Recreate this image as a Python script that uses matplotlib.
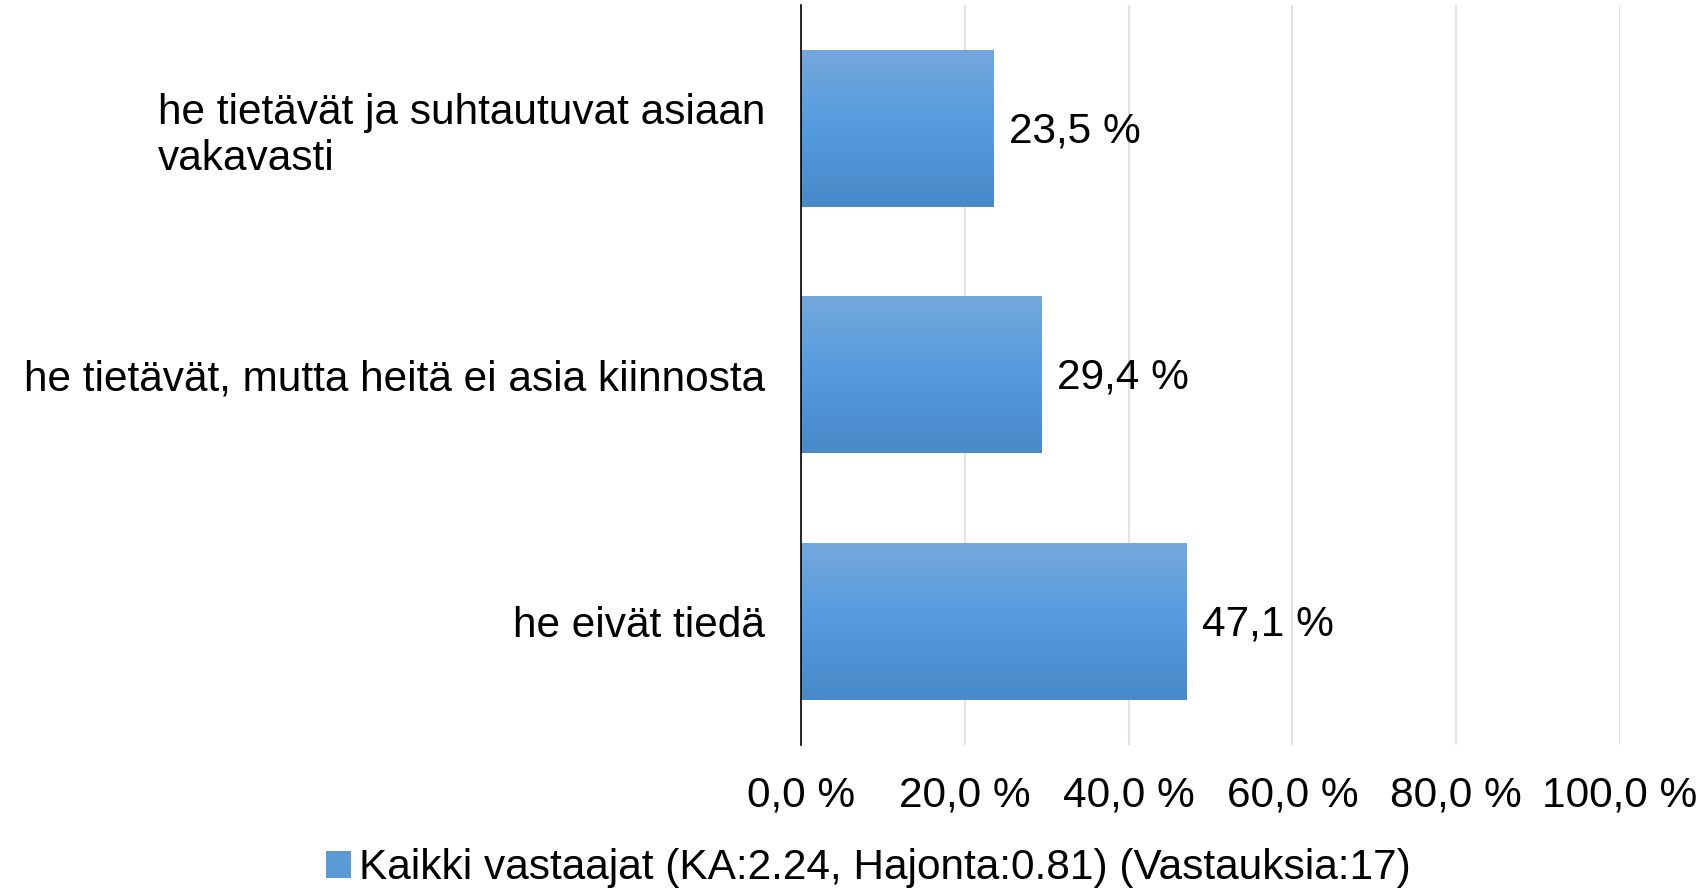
import numpy as np
import matplotlib
matplotlib.use("Agg")
import matplotlib.pyplot as plt
from matplotlib.colors import LinearSegmentedColormap
from matplotlib.patches import Patch
from matplotlib.ticker import FuncFormatter

plt.rcParams['font.family'] = ['Liberation Sans', 'DejaVu Sans']

# data
categories = ["he tietävät ja suhtautuvat asiaan\nvakavasti",
              "he tietävät, mutta heitä ei asia kiinnosta",
              "he eivät tiedä"]
values = [23.5, 29.4, 47.1]
series_label = "Kaikki vastaajat (KA:2.24, Hajonta:0.81) (Vastauksia:17)"
xticks = [0, 20, 40, 60, 80, 100]

FS = 30.5
W, H = 1706, 888
fig = plt.figure(figsize=(W / 100, H / 100), dpi=100)
ax = fig.add_axes([801 / W, 1 - 745 / H, (1620 - 801) / W, 740 / H])

ypos = np.arange(len(categories))
bars = ax.barh(ypos, values, height=0.635, color="#5A9BD5", zorder=2)

# vertical gradient on each bar
grad = LinearSegmentedColormap.from_list("g", ["#74A8DC", "#559BDE", "#4889C8"])
g = np.linspace(0, 1, 256).reshape(-1, 1)
for b in bars:
    x0, y0 = b.get_x(), b.get_y()
    w, h = b.get_width(), b.get_height()
    # inverted y axis: top of bar is y0
    ax.imshow(g, cmap=grad, aspect="auto", extent=(x0, x0 + w, y0 + h, y0),
              origin="upper", zorder=3, interpolation="bilinear")

for b, v in zip(bars, values):
    ax.annotate(f"{v:.1f} %".replace(".", ","), xy=(b.get_width(), b.get_y() + b.get_height() / 2),
                xytext=(11, -2), textcoords="offset points", va="center", ha="left",
                fontsize=FS, color="black")

ax.set_xlim(0, 100)
ax.set_ylim(2.5, -0.5)
ax.set_xticks(xticks)
ax.xaxis.set_major_formatter(FuncFormatter(lambda x, p: f"{x:.1f} %".replace(".", ",")))
ax.set_yticks(ypos)
ax.set_yticklabels(categories)
for t in ax.get_yticklabels():
    t.set_multialignment("left")
ax.tick_params(axis="y", length=0, pad=26, labelsize=FS)
ax.tick_params(axis="x", length=0, pad=22, labelsize=FS)

ax.grid(axis="x", color="#DCDDEA", linewidth=1.2, zorder=0)
for s in ["top", "right", "bottom"]:
    ax.spines[s].set_visible(False)
ax.spines["left"].set_color("black")
ax.spines["left"].set_linewidth(1.2)
ax.spines["left"].set_zorder(4)

handle = Patch(facecolor="#5A9BD5", edgecolor="none")
fig.legend([handle], [series_label], loc="center", bbox_to_anchor=(0.509, 1 - 868 / H),
           frameon=False, fontsize=FS, handlelength=0.6, handleheight=0.6,
           handletextpad=0.2, borderpad=0)

fig.savefig("out.png", dpi=100)
